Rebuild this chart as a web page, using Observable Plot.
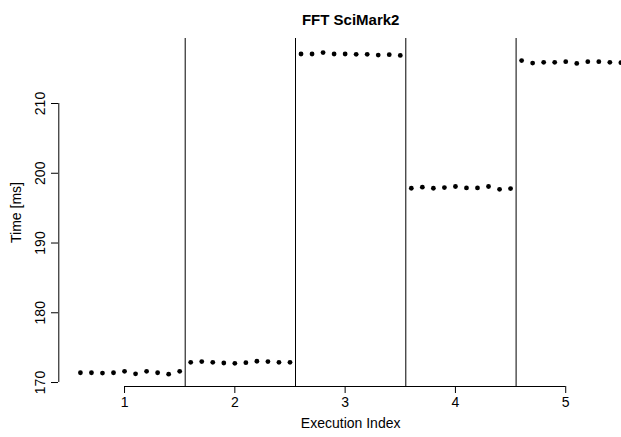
<!DOCTYPE html>
<html>
<head>
<meta charset="utf-8">
<script src="https://cdn.jsdelivr.net/npm/d3@7"></script>
<script src="https://cdn.jsdelivr.net/npm/@observablehq/plot@0.6"></script>
<style>
  html, body { margin: 0; padding: 0; background: #fff; overflow: hidden; }
</style>
</head>
<body>
<div id="chart"></div>
<script>
// Time [ms] of each run, grouped by execution (10 runs per execution)
const execution1 = [171.4, 171.4, 171.35, 171.4, 171.6, 171.25, 171.6, 171.4, 171.2, 171.6];
const execution2 = [172.9, 173.0, 172.9, 172.8, 172.75, 172.85, 173.05, 173.0, 172.9, 172.9];
const execution3 = [217.1, 217.1, 217.3, 217.1, 217.1, 217.05, 217.05, 216.95, 217.0, 216.9];
const execution4 = [197.85, 198.0, 197.85, 197.95, 198.1, 197.9, 197.9, 198.1, 197.7, 197.8];
const execution5 = [216.15, 215.8, 215.9, 215.9, 216.0, 215.75, 216.0, 216.0, 215.9, 215.85];
const executions = [execution1, execution2, execution3, execution4, execution5];
const executionIndex = [1, 2, 3, 4, 5];
const separators = [1.55, 2.55, 3.55, 4.55];
const xTicks = [1, 2, 3, 4, 5];
const yTicks = [170, 180, 190, 200, 210];
const titleText = "FFT SciMark2";
const xLabel = "Execution Index";
const yLabel = "Time [ms]";

// runs spread within each execution slot (step 0.1 around the index)
const data = executions.flatMap((runs, e) =>
  runs.map((t, i) => ({x: executionIndex[e] - 0.4 + 0.1 * i, y: t}))
);

const xDomain = [0.404, 5.696];
const yDomain = [169.43, 219.32];
const xMid = (xDomain[0] + xDomain[1]) / 2;
const font = "Liberation Sans, Arial, Helvetica, sans-serif";

const chart = Plot.plot({
  width: 621,
  height: 437,
  marginLeft: 58,
  marginRight: 0,
  marginTop: 38,
  marginBottom: 51,
  style: {fontFamily: font, fontSize: "14px", color: "black", background: "white"},
  x: {domain: xDomain, range: [58.3, 642], axis: null},
  y: {domain: yDomain, axis: null},
  marks: [
    Plot.ruleX(separators, {stroke: "black", strokeWidth: 1}),
    Plot.dot(data, {x: "x", y: "y", r: 2.4, fill: "black", stroke: null}),
    // y axis
    Plot.ruleX([xDomain[0]], {y1: yTicks[0], y2: yTicks[yTicks.length - 1], stroke: "black"}),
    Plot.axisY({ticks: yTicks, tickSize: 7, tickPadding: 7, tickRotate: -90, tickFormat: d => String(d), label: null, fontSize: 14, stroke: "black"}),
    // x axis
    Plot.ruleY([yDomain[0]], {x1: xTicks[0], x2: xTicks[xTicks.length - 1], stroke: "black"}),
    Plot.axisX({ticks: xTicks, tickSize: 7, tickPadding: 4, tickFormat: d => String(d), label: null, fontSize: 14, stroke: "black"}),
    // labels
    Plot.text([titleText], {x: () => xMid, frameAnchor: "top", dy: -24, text: d => d, fontWeight: "bold", fontSize: 15, fill: "black"}),
    Plot.text([xLabel], {x: () => xMid, frameAnchor: "bottom", dy: 41, text: d => d, fontSize: 14, fill: "black"}),
    Plot.text([yLabel], {frameAnchor: "left", dx: -42, rotate: -90, textAnchor: "middle", text: d => d, fontSize: 14, fill: "black"})
  ]
});
document.getElementById("chart").appendChild(chart);
</script>
</body>
</html>
